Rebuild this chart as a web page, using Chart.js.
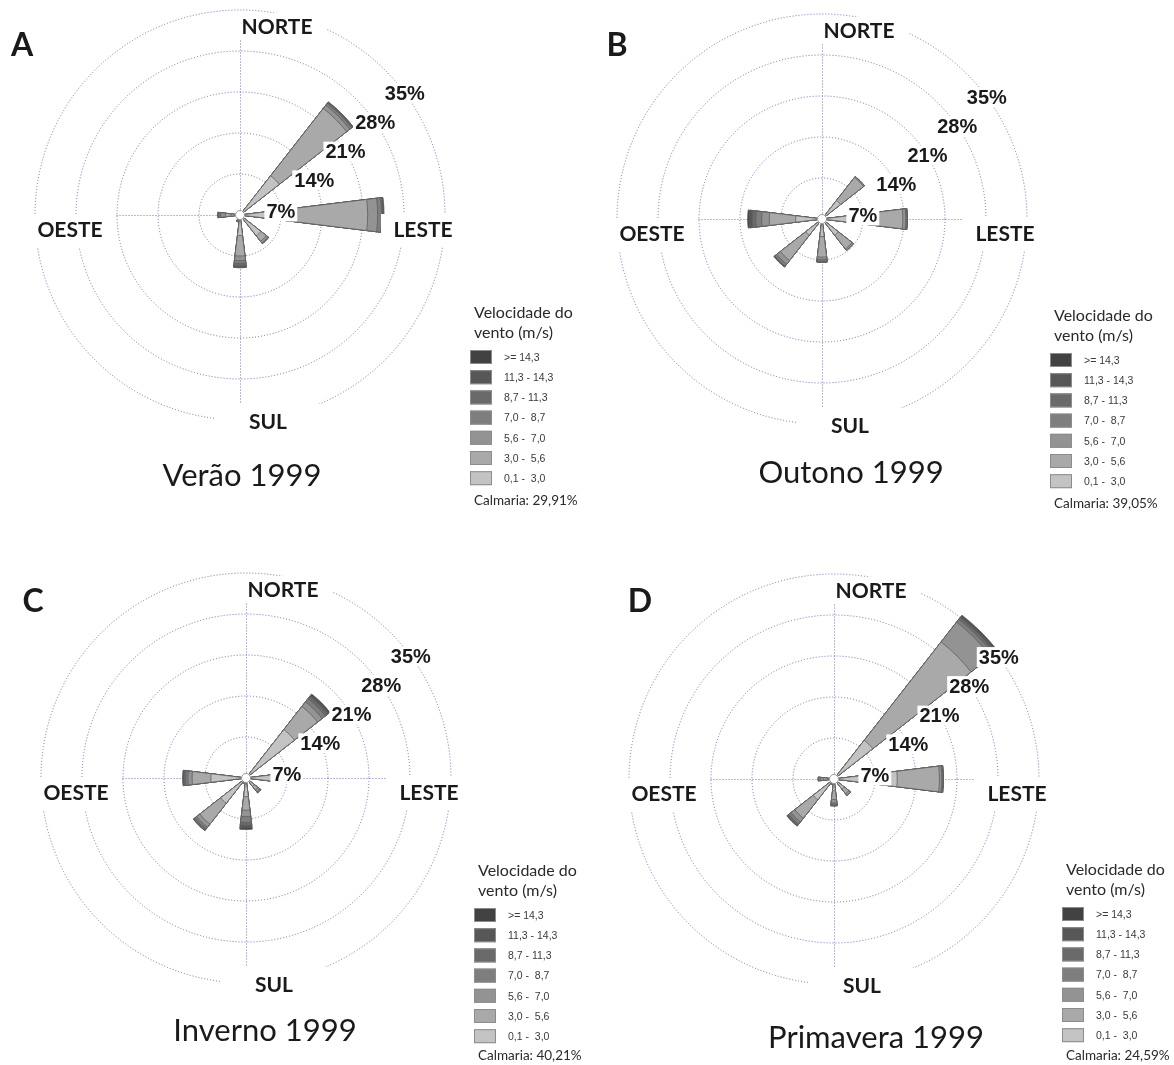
<!DOCTYPE html>
<html lang="pt">
<head>
<meta charset="utf-8">
<title>Rosa dos ventos – 1999</title>
<script src="https://cdn.jsdelivr.net/npm/chart.js@4.4.1/dist/chart.umd.min.js"></script>
<style>
  html, body { margin: 0; padding: 0; background: #ffffff; }
  #wrap { position: relative; width: 1174px; height: 1065px; overflow: hidden; background: #ffffff; }
  #wrap canvas { position: absolute; left: 0; top: 0; }
</style>
</head>
<body>
<div id="wrap">
  <canvas id="roseA" width="1174" height="1065"></canvas>
  <canvas id="roseB" width="1174" height="1065"></canvas>
  <canvas id="roseC" width="1174" height="1065"></canvas>
  <canvas id="roseD" width="1174" height="1065"></canvas>
</div>
<script>
// Wind directions (16 sectors, clockwise from north)
const directions = ['N', 'NNE', 'NE', 'ENE', 'E', 'ESE', 'SE', 'SSE', 'S', 'SSW', 'SW', 'WSW', 'W', 'WNW', 'NW', 'NNW'];

// Wind speed classes (m/s), from the calmest to the strongest
const speedClasses = ['0,1 -  3,0', '3,0 -  5,6', '5,6 -  7,0', '7,0 -  8,7', '8,7 - 11,3', '11,3 - 14,3', '>= 14,3'];
const classColors = ['#c3c3c3', '#a9a9a9', '#939393', '#7e7e7e', '#6a6a6a', '#575757', '#424242'];

// Frequency rings (%)
const ringTicks = [7, 14, 21, 28, 35];
const ringLabels = ['7%', '14%', '21%', '28%', '35%'];

// Compass labels
const compassLabels = ['NORTE', 'LESTE', 'SUL', 'OESTE'];

// Frequency (%) per speed class (rows) and direction (columns)
//                N  NNE   NE ENE    E ESE   SE SSE    S  SSW   SW WSW    W WNW NW NNW
const verao1999 = [
  [0, 0,  8.5, 0,  7.5, 0, 4.5, 0, 3.5, 0.6, 0,   0, 1.5, 0, 0, 0],
  [0, 0, 14.6, 0, 14.3, 0, 1.2, 0, 3.5, 0.3, 0,   0, 1.0, 0, 0, 0],
  [0, 0,  0.7, 0,  1.7, 0, 0.4, 0, 0.8, 0.2, 0,   0, 0.8, 0, 0, 0],
  [0, 0,  0.4, 0,  0.7, 0, 0.1, 0, 0.5, 0.1, 0,   0, 0.3, 0, 0, 0],
  [0, 0,  0.2, 0,  0.2, 0, 0,   0, 0.4, 0,   0,   0, 0.2, 0, 0, 0],
  [0, 0,  0.1, 0,  0.1, 0, 0,   0, 0.3, 0,   0,   0, 0,   0, 0, 0],
  [0, 0,  0,   0,  0.1, 0, 0,   0, 0,   0,   0,   0, 0,   0, 0, 0]
];
const outono1999 = [
  [0, 0, 4.0, 0, 5.5, 0, 3.5, 0, 3.0, 0.4, 3.5, 0, 4.5, 0, 0, 0],
  [0, 0, 5.0, 0, 8.3, 0, 3.0, 0, 3.5, 0.2, 5.5, 0, 4.5, 0, 0, 0],
  [0, 0, 0.2, 0, 0.5, 0, 0.3, 0, 0.4, 0,   0.8, 0, 1.3, 0, 0, 0],
  [0, 0, 0,   0, 0.2, 0, 0,   0, 0.3, 0,   0.4, 0, 1.0, 0, 0, 0],
  [0, 0, 0,   0, 0.1, 0, 0,   0, 0.2, 0,   0.2, 0, 0.6, 0, 0, 0],
  [0, 0, 0,   0, 0,   0, 0,   0, 0,   0,   0,   0, 0.5, 0, 0, 0],
  [0, 0, 0,   0, 0,   0, 0,   0, 0,   0,   0,   0, 0.3, 0, 0, 0]
];
const inverno1999 = [
  [0, 0, 10.5, 0, 5.0, 0, 1.8, 0, 3.2, 0.6, 5.5, 0, 6.0, 0, 0, 0],
  [0, 0,  5.0, 0, 2.0, 0, 0.8, 0, 2.3, 0.4, 4.5, 0, 3.2, 0, 0, 0],
  [0, 0,  1.0, 0, 0,   0, 0.4, 0, 1.1, 0,   0.7, 0, 0.7, 0, 0, 0],
  [0, 0,  0.7, 0, 0,   0, 0.2, 0, 1.0, 0,   0.4, 0, 0.4, 0, 0, 0],
  [0, 0,  0.5, 0, 0,   0, 0,   0, 0.5, 0,   0.3, 0, 0.3, 0, 0, 0],
  [0, 0,  0.3, 0, 0,   0, 0,   0, 0.4, 0,   0,   0, 0.2, 0, 0, 0],
  [0, 0,  0.2, 0, 0,   0, 0,   0, 0.3, 0,   0,   0, 0,   0, 0, 0]
];
const primavera1999 = [
  [0, 0,  8.4, 0, 10.8, 0, 2.2, 0, 2.0, 0.6, 4.5, 0, 1.0, 0, 0, 0],
  [0, 0, 21.3, 0,  7.2, 0, 1.0, 0, 1.5, 0.4, 4.0, 0, 0.8, 0, 0, 0],
  [0, 0,  4.3, 0,  0.4, 0, 0.4, 0, 0.6, 0,   0.8, 0, 0.5, 0, 0, 0],
  [0, 0,  0.6, 0,  0.2, 0, 0,   0, 0.3, 0,   0.5, 0, 0.4, 0, 0, 0],
  [0, 0,  0.4, 0,  0.1, 0, 0,   0, 0.2, 0,   0.3, 0, 0,   0, 0, 0],
  [0, 0,  0.3, 0,  0,   0, 0,   0, 0,   0,   0.1, 0, 0,   0, 0, 0],
  [0, 0,  0.2, 0,  0,   0, 0,   0, 0,   0,   0,   0, 0,   0, 0, 0]
];

const seasonTitles = ['Verão 1999', 'Outono 1999', 'Inverno 1999', 'Primavera 1999'];
const calmLabels = ['Calmaria: 29,91%', 'Calmaria: 39,05%', 'Calmaria: 40,21%', 'Calmaria: 24,59%'];
const panelLetters = ['A', 'B', 'C', 'D'];
const seasonRows = [verao1999, outono1999, inverno1999, primavera1999];

// ---- page layout (pixels) ----
const PAGE_W = 1174, PAGE_H = 1065;
const RADIUS = 205;                 // radius of the 35% ring
const WEDGE = 14, GAP = 22.5 - 14;  // angular width of a petal and the gap after it (degrees)

const panelLayout = [
  { canvas: 'roseA', cx: 240, cy: 215, letterX: 22,  letterY: 46,  titleX: 242, titleY: 476,  legendX: 470,  legendY: 357, calmY: 501 },
  { canvas: 'roseB', cx: 822, cy: 219, letterX: 617, letterY: 46,  titleX: 851, titleY: 473,  legendX: 1050, legendY: 360, calmY: 504 },
  { canvas: 'roseC', cx: 246, cy: 778, letterX: 33,  letterY: 602, titleX: 265, titleY: 1031, legendX: 474,  legendY: 915, calmY: 1056 },
  { canvas: 'roseD', cx: 834, cy: 779, letterX: 640, letterY: 602, titleX: 876, titleY: 1038, legendX: 1062, legendY: 914, calmY: 1056 }
];

// compass label placement relative to the rose centre, with the white box behind it
const compassPlacement = {
  NORTE: { tx: 37,   ty: -188, box: [2, -202, 84, 26] },
  LESTE: { tx: 183,  ty: 15,   box: [141, -1, 73, 33] },
  SUL:   { tx: 28,   ty: 207,  box: [-24, 189, 105, 33] },
  OESTE: { tx: -170, ty: 15,   box: [-208, -1, 82, 33] }
};
// bearing (degrees from north) where each ring label sits
const ringLabelBearing = [85, 65, 59, 55.5, 53.5];
// length of the dotted N / E / S / W axes
const axisLength = { N: 177, E: 141, S: 190, W: 124 };

const GRID_COLOR = 'rgba(88, 92, 178, 0.85)';
const GRID_DASH = [1, 2];
const TEXT_COLOR = '#1a1a1a';

function cumulate(rows) {
  const out = [];
  let acc = new Array(directions.length).fill(0);
  rows.forEach(row => {
    acc = acc.map((a, i) => Math.round((a + row[i]) * 100) / 100);
    out.push(acc.slice());
  });
  return out;
}
function withGaps(values) {
  const out = [];
  values.forEach(v => { out.push(v); out.push(0); });
  return out;
}

const rosePlugin = {
  id: 'rose',
  beforeDatasetsDraw(chart, args, opts) {
    const s = chart.scales.r;
    const ctx = chart.ctx;
    const k = s.drawingArea / RADIUS;
    const x0 = s.xCenter + 0.5, y0 = s.yCenter + 0.5;
    ctx.save();
    ctx.strokeStyle = GRID_COLOR;
    ctx.lineWidth = 1;
    ctx.setLineDash(GRID_DASH);
    ctx.beginPath();
    ctx.moveTo(x0, y0); ctx.lineTo(x0, y0 - axisLength.N * k);
    ctx.moveTo(x0, y0); ctx.lineTo(x0, y0 + axisLength.S * k);
    ctx.moveTo(x0, y0); ctx.lineTo(x0 + axisLength.E * k, y0);
    ctx.moveTo(x0, y0); ctx.lineTo(x0 - axisLength.W * k, y0);
    ctx.stroke();
    ctx.restore();
  },
  afterDatasetsDraw(chart, args, opts) {
    const s = chart.scales.r;
    const ctx = chart.ctx;
    const k = s.drawingArea / RADIUS;
    const cx = s.xCenter, cy = s.yCenter;
    const p = opts.panel;
    ctx.save();

    // calm circle at the centre
    ctx.beginPath();
    ctx.arc(cx, cy, 4.5, 0, Math.PI * 2);
    ctx.fillStyle = '#ffffff';
    ctx.fill();
    ctx.lineWidth = 1;
    ctx.strokeStyle = '#9a9a9a';
    ctx.stroke();

    // ring labels with white backdrop
    ctx.font = 'bold 20px "Liberation Sans", Arial, sans-serif';
    ctx.textAlign = 'center';
    ctx.textBaseline = 'middle';
    ringTicks.forEach((v, i) => {
      const r = s.getDistanceFromCenterForValue(v);
      const a = ringLabelBearing[i] * Math.PI / 180;
      const x = cx + r * Math.sin(a);
      const y = cy - r * Math.cos(a);
      const w = ctx.measureText(ringLabels[i]).width;
      ctx.fillStyle = '#ffffff';
      ctx.fillRect(x - w / 2 - 2, y - 10, w + 4, 20);
      ctx.fillStyle = TEXT_COLOR;
      ctx.fillText(ringLabels[i], x, y + 1);
    });

    // compass labels
    ctx.font = 'bold 21px Lato, "Open Sans", sans-serif';
    compassLabels.forEach(name => {
      const c = compassPlacement[name];
      ctx.fillStyle = '#ffffff';
      ctx.fillRect(cx + c.box[0] * k, cy + c.box[1] * k, c.box[2] * k, c.box[3] * k);
      ctx.fillStyle = TEXT_COLOR;
      ctx.fillText(name, cx + c.tx * k, cy + c.ty * k);
    });

    // panel letter
    ctx.font = 'bold 32px Lato, "Open Sans", sans-serif';
    ctx.fillText(opts.letter, p.letterX, p.letterY);

    // season title
    ctx.font = '31px Lato, "Open Sans", sans-serif';
    ctx.fillText(opts.title, p.titleX, p.titleY);

    // speed legend
    const lx = p.legendX, ly = p.legendY, step = 20.2;
    ctx.textAlign = 'left';
    ctx.fillStyle = '#2a2a2a';
    ctx.font = '16px Lato, "Open Sans", sans-serif';
    ctx.fillText('Velocidade do', lx + 4, ly - 44);
    ctx.fillText('vento (m/s)', lx + 4, ly - 24);
    for (let i = 0; i < speedClasses.length; i++) {
      const cls = speedClasses.length - 1 - i;
      const y = ly + i * step;
      ctx.fillStyle = classColors[cls];
      ctx.fillRect(lx, y - 7, 22, 14);
      ctx.strokeStyle = '#8c8c8c';
      ctx.lineWidth = 1;
      ctx.strokeRect(lx + 0.5, y - 6.5, 21, 13);
      ctx.fillStyle = '#3a3a3a';
      ctx.font = '10.5px "Liberation Sans", Arial, sans-serif';
      ctx.fillText(speedClasses[cls], lx + 34, y + 1);
    }
    ctx.fillStyle = '#2a2a2a';
    ctx.font = '13.5px Lato, "Open Sans", sans-serif';
    ctx.fillText(opts.calm, lx + 4, p.calmY);
    ctx.restore();
  }
};

function buildRose(i) {
  const p = panelLayout[i];
  const cumulative = cumulate(seasonRows[i]);
  const labels = directions.flatMap(d => [d, '']);
  const datasets = cumulative.map((vals, c) => ({
    label: speedClasses[c],
    data: withGaps(vals),
    backgroundColor: classColors[c],
    borderColor: '#5e5e5e',
    borderWidth: ctx => (ctx.raw > 0 ? 0.8 : 0),
    angle: ctx => (ctx.dataIndex % 2 === 0 ? WEDGE : GAP)
  }));
  return new Chart(document.getElementById(p.canvas), {
    type: 'polarArea',
    data: { labels, datasets },
    options: {
      responsive: false,
      animation: false,
      devicePixelRatio: 1,
      layout: {
        padding: {
          left: p.cx - RADIUS,
          top: p.cy - RADIUS,
          right: PAGE_W - (p.cx + RADIUS),
          bottom: PAGE_H - (p.cy + RADIUS)
        }
      },
      plugins: {
        legend: { display: false },
        tooltip: { enabled: false },
        rose: { panel: p, title: seasonTitles[i], calm: calmLabels[i], letter: panelLetters[i] }
      },
      scales: {
        r: {
          min: 0,
          max: 35,
          startAngle: -WEDGE / 2,
          ticks: { display: false, stepSize: 7 },
          grid: { circular: true, color: GRID_COLOR, lineWidth: 1, borderDash: GRID_DASH },
          border: { dash: GRID_DASH },
          angleLines: { display: false },
          pointLabels: { display: false }
        }
      }
    },
    plugins: [rosePlugin]
  });
}

Promise.all([
  document.fonts.load('bold 21px Lato'),
  document.fonts.load('31px Lato'),
  document.fonts.load('bold 20px "Liberation Sans"'),
  document.fonts.load('10.5px "Liberation Sans"')
]).catch(() => null).then(() => {
  for (let i = 0; i < panelLayout.length; i++) buildRose(i);
});
</script>
</body>
</html>
